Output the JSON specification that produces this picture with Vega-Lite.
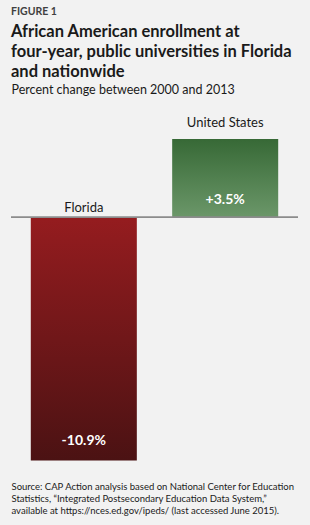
{
  "$schema": "https://vega.github.io/schema/vega-lite/v6.json",
  "width": 287,
  "height": 366,
  "autosize": {"type": "none"},
  "padding": {"left": 11, "top": 100, "right": 12, "bottom": 59},
  "background": "#f2f2f2",
  "config": {
    "view": {"stroke": null},
    "font": "Lato",
    "locale": {"number": {"decimal": ".", "thousands": ",", "grouping": [3], "currency": ["$", ""], "minus": "-"}}
  },
  "title": {
    "text": "FIGURE 1",
    "subtitle": ["African American enrollment at", "four-year, public universities in Florida", "and nationwide"],
    "anchor": "start",
    "fontSize": 10.5,
    "fontWeight": "bold",
    "color": "#404040",
    "subtitleFontSize": 16.5,
    "subtitleFontWeight": "bold",
    "subtitleColor": "#1a1a1a",
    "subtitleLineHeight": 20,
    "subtitlePadding": 6,
    "offset": 3,
    "frame": "group"
  },
  "data": {
    "values": [
      {"region": "Florida", "change": -0.109},
      {"region": "United States", "change": 0.035}
    ]
  },
  "layer": [
    {
      "mark": {"type": "bar", "color": {"gradient": "linear", "x1": 0, "y1": 0, "x2": 0, "y2": 1, "stops": [{"offset": 0, "color": "#951c1f"}, {"offset": 1, "color": "#4b1213"}]}},
      "transform": [{"filter": "datum.change < 0"}],
      "encoding": {
        "x": {"field": "region", "type": "nominal", "scale": {"domain": ["Florida", "United States"], "paddingInner": 0.25, "paddingOuter": 0.14}, "axis": {"orient": "top", "labels": false, "ticks": false, "domain": false, "title": "Percent change between 2000 and 2013", "titleFontSize": 12.5, "titleFontWeight": "normal", "titleColor": "#1a1a1a", "titleAnchor": "start", "titleAlign": "left", "titlePadding": 4}},
        "y": {"field": "change", "type": "quantitative", "scale": {"domain": [-0.1115, 0.0525], "nice": false, "zero": false}, "axis": null}
      }
    },
    {
      "mark": {"type": "bar", "color": {"gradient": "linear", "x1": 0, "y1": 0, "x2": 0, "y2": 1, "stops": [{"offset": 0, "color": "#376936"}, {"offset": 1, "color": "#6b9769"}]}},
      "transform": [{"filter": "datum.change >= 0"}],
      "encoding": {
        "x": {"field": "region", "type": "nominal", "axis": {"orient": "bottom", "labels": false, "ticks": false, "domain": false, "title": ["Source: CAP Action analysis based on National Center for Education", "Statistics, \u201cIntegrated Postsecondary Education Data System,\u201d", "available at https://nces.ed.gov/ipeds/ (last accessed June 2015)."], "titleFontSize": 9.5, "titleFontWeight": "normal", "titleColor": "#1a1a1a", "titleAnchor": "start", "titleAlign": "left", "titleLineHeight": 12, "titlePadding": 15}},
        "y": {"field": "change", "type": "quantitative", "axis": null}
      }
    },
    {
      "mark": {"type": "rule", "color": "#8c8c8c", "strokeWidth": 1.5},
      "encoding": {"y": {"datum": 0, "axis": null}}
    },
    {
      "mark": {"type": "text", "baseline": "alphabetic", "dy": -5, "fontSize": 13, "color": "#1a1a1a"},
      "transform": [{"filter": "datum.change < 0"}],
      "encoding": {
        "x": {"field": "region", "type": "nominal", "axis": null},
        "y": {"datum": 0, "axis": null},
        "text": {"field": "region"}
      }
    },
    {
      "mark": {"type": "text", "baseline": "alphabetic", "dy": -12, "fontSize": 13, "color": "#1a1a1a"},
      "transform": [{"filter": "datum.change >= 0"}],
      "encoding": {
        "x": {"field": "region", "type": "nominal", "axis": null},
        "y": {"field": "change", "type": "quantitative", "axis": null},
        "text": {"field": "region"}
      }
    },
    {
      "mark": {"type": "text", "baseline": "middle", "dy": -19, "fontSize": 14, "fontWeight": "bold", "color": "white"},
      "transform": [{"filter": "datum.change < 0"}],
      "encoding": {
        "x": {"field": "region", "type": "nominal", "axis": null},
        "y": {"field": "change", "type": "quantitative", "axis": null},
        "text": {"field": "change", "format": "+.1%"}
      }
    },
    {
      "mark": {"type": "text", "baseline": "middle", "dy": -17, "fontSize": 14, "fontWeight": "bold", "color": "white"},
      "transform": [{"filter": "datum.change >= 0"}],
      "encoding": {
        "x": {"field": "region", "type": "nominal", "axis": null},
        "y": {"datum": 0, "axis": null},
        "text": {"field": "change", "format": "+.1%"}
      }
    }
  ],
  "resolve": {"axis": {"x": "independent"}}
}
